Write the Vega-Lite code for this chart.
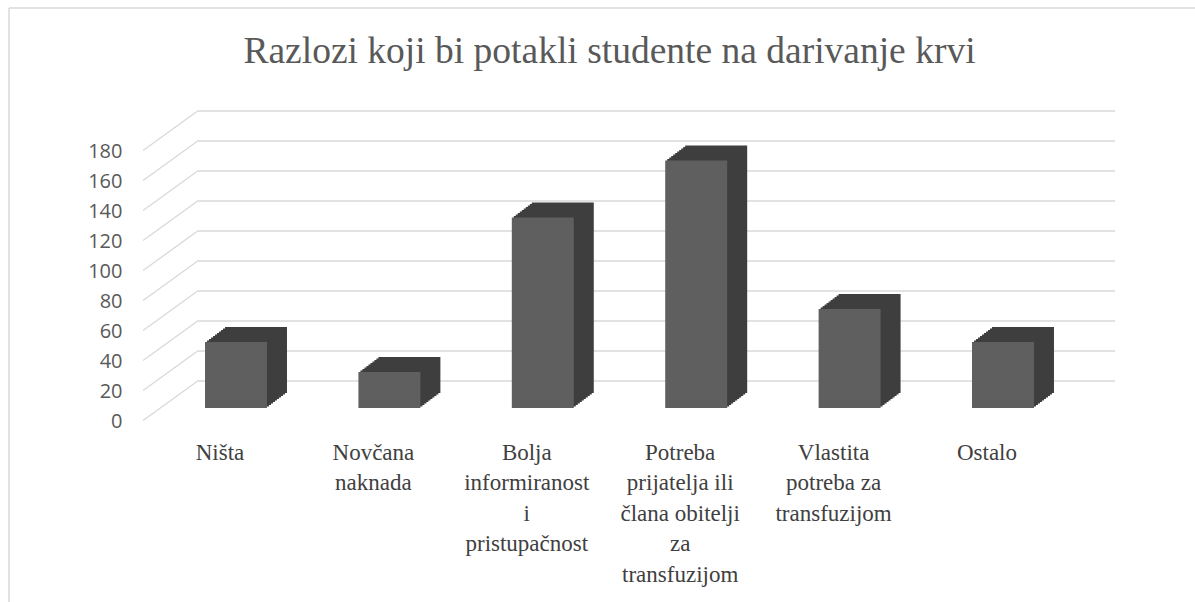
{
  "$schema": "https://vega.github.io/schema/vega-lite/v6.json",
  "width": 921,
  "height": 270,
  "autosize": "none",
  "padding": {"left": 159, "top": 138, "right": 115, "bottom": 194},
  "background": "white",
  "config": {
    "view": {"stroke": null},
    "axisX": {"labelFont": "Liberation Serif, Times New Roman, DejaVu Serif, serif"},
    "axisY": {"labelFont": "Open Sans"}
  },
  "resolve": {"axis": {"x": "independent", "y": "independent"}},
  "title": {
    "text": "Razlozi koji bi potakli studente na darivanje krvi",
    "font": "Liberation Serif, Times New Roman, DejaVu Serif, serif",
    "fontSize": 37.5,
    "fontWeight": "normal",
    "color": "#595959",
    "anchor": "middle",
    "frame": "group",
    "dx": -10,
    "offset": -63
  },
  "datasets": {
    "bars": [
      {"razlog": "Ništa", "broj": 44},
      {"razlog": "Novčana naknada", "broj": 24},
      {"razlog": "Bolja informiranost i pristupačnost", "broj": 127},
      {"razlog": "Potreba prijatelja ili člana obitelji za transfuzijom", "broj": 165},
      {"razlog": "Vlastita potreba za transfuzijom", "broj": 66},
      {"razlog": "Ostalo", "broj": 44}
    ],
    "grid": [
      {"v": 0}, {"v": 20}, {"v": 40}, {"v": 60}, {"v": 80},
      {"v": 100}, {"v": 120}, {"v": 140}, {"v": 160}, {"v": 180}
    ]
  },
  "layer": [
    {
      "data": {"name": "grid"},
      "mark": {"type": "rule", "stroke": "#d9d9d9", "strokeWidth": 1.3, "xOffset": -39, "x2Offset": 112, "yOffset": -27, "y2Offset": -27},
      "encoding": {
        "x": {"datum": "Ništa", "type": "nominal", "axis": null},
        "x2": {"datum": "Ostalo"},
        "y": {"field": "v", "type": "quantitative", "scale": {"domain": [0, 180], "nice": false, "zero": true}, "axis": null}
      }
    },
    {
      "data": {"name": "grid"},
      "mark": {"type": "point", "shape": "stroke", "angle": -36, "size": 4436, "stroke": "#d9d9d9", "strokeWidth": 1.3, "filled": false, "opacity": 1, "xOffset": -66, "yOffset": -7},
      "encoding": {
        "x": {"datum": "Ništa", "type": "nominal", "axis": null},
        "y": {"field": "v", "type": "quantitative", "axis": null}
      }
    },
    {
      "data": {"name": "bars"},
      "encoding": {
        "x": {
          "field": "razlog",
          "type": "nominal",
          "sort": null,
          "scale": {
            "domain": ["Ništa", "Novčana naknada", "Bolja informiranost i pristupačnost", "Potreba prijatelja ili člana obitelji za transfuzijom", "Vlastita potreba za transfuzijom", "Ostalo"],
            "paddingInner": 0.596,
            "paddingOuter": 0.3
          },
          "axis": {
            "title": null,
            "orient": "bottom",
            "ticks": false,
            "domain": false,
            "grid": false,
            "labelAngle": 0,
            "labelAlign": "center",
            "labelFont": "Liberation Serif, Times New Roman, DejaVu Serif, serif",
            "labelFontSize": 23,
            "labelColor": "#404040",
            "labelLineHeight": 30.5,
            "labelPadding": 33,
            "labelOffset": -16,
            "labelLimit": 0,
            "labelOverlap": false,
            "labelBound": false,
            "labelExpr": "datum.value == 'Novčana naknada' ? ['Novčana', 'naknada'] : datum.value == 'Bolja informiranost i pristupačnost' ? ['Bolja', 'informiranost', 'i', 'pristupačnost'] : datum.value == 'Potreba prijatelja ili člana obitelji za transfuzijom' ? ['Potreba', 'prijatelja ili', 'člana obitelji', 'za', 'transfuzijom'] : datum.value == 'Vlastita potreba za transfuzijom' ? ['Vlastita', 'potreba za', 'transfuzijom'] : datum.value"
          }
        },
        "y": {
          "field": "broj",
          "type": "quantitative",
          "axis": {
            "title": null,
            "values": [0, 20, 40, 60, 80, 100, 120, 140, 160, 180],
            "grid": false,
            "ticks": false,
            "tickSize": 0,
            "domain": false,
            "labelFont": "Open Sans",
            "labelFontSize": 20,
            "labelColor": "#595959",
            "labelPadding": 37,
            "labelOffset": 13,
            "labelOverlap": false
          }
        }
      },
      "layer": [
        {"mark": {"type": "bar", "color": "#3e3e3e", "xOffset": 20, "x2Offset": 20, "yOffset": -15, "y2Offset": -15}},
        {"mark": {"type": "bar", "color": "#3e3e3e", "xOffset": 18, "x2Offset": 18, "yOffset": -13.5, "y2Offset": -13.5}},
        {"mark": {"type": "bar", "color": "#3e3e3e", "xOffset": 16, "x2Offset": 16, "yOffset": -12, "y2Offset": -12}},
        {"mark": {"type": "bar", "color": "#3e3e3e", "xOffset": 14, "x2Offset": 14, "yOffset": -10.5, "y2Offset": -10.5}},
        {"mark": {"type": "bar", "color": "#3e3e3e", "xOffset": 12, "x2Offset": 12, "yOffset": -9, "y2Offset": -9}},
        {"mark": {"type": "bar", "color": "#3e3e3e", "xOffset": 10, "x2Offset": 10, "yOffset": -7.5, "y2Offset": -7.5}},
        {"mark": {"type": "bar", "color": "#3e3e3e", "xOffset": 8, "x2Offset": 8, "yOffset": -6, "y2Offset": -6}},
        {"mark": {"type": "bar", "color": "#3e3e3e", "xOffset": 6, "x2Offset": 6, "yOffset": -4.5, "y2Offset": -4.5}},
        {"mark": {"type": "bar", "color": "#3e3e3e", "xOffset": 4, "x2Offset": 4, "yOffset": -3, "y2Offset": -3}},
        {"mark": {"type": "bar", "color": "#3e3e3e", "xOffset": 2, "x2Offset": 2, "yOffset": -1.5, "y2Offset": -1.5}},
        {"mark": {"type": "bar", "color": "#5f5f5f"}}
      ]
    },
    {
      "data": {"values": [{"top": 266.7}]},
      "mark": {"type": "rule", "stroke": "#d9d9d9", "strokeWidth": 1.5, "xOffset": -227, "x2Offset": 192},
      "encoding": {
        "x": {"datum": "Ništa", "type": "nominal", "axis": null},
        "x2": {"datum": "Ostalo"},
        "y": {"field": "top", "type": "quantitative", "axis": null}
      }
    },
    {
      "data": {"values": [{"top": 266.7, "bottom": -130}]},
      "mark": {"type": "rule", "stroke": "#d9d9d9", "strokeWidth": 1.5, "xOffset": -227},
      "encoding": {
        "x": {"datum": "Ništa", "type": "nominal", "axis": null},
        "y": {"field": "top", "type": "quantitative", "axis": null},
        "y2": {"field": "bottom"}
      }
    }
  ]
}
